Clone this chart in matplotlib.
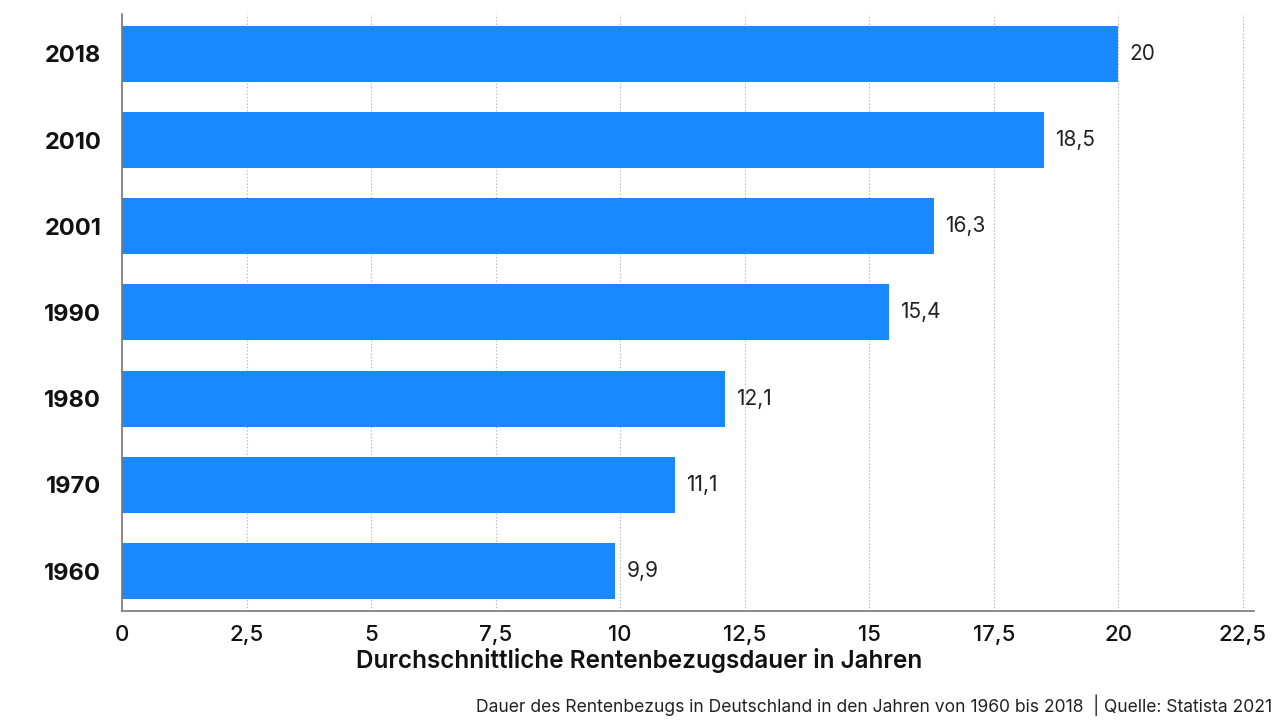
"""Dauer des Rentenbezugs in Deutschland, 1960 bis 2018."""

import matplotlib

matplotlib.use("Agg")
import matplotlib.pyplot as plt
import numpy as np

years = ["1960", "1970", "1980", "1990", "2001", "2010", "2018"]
durations = [9.9, 11.1, 12.1, 15.4, 16.3, 18.5, 20.0]
x_ticks = [0, 2.5, 5, 7.5, 10, 12.5, 15, 17.5, 20, 22.5]

BAR_COLOR = "#1a88ff"


def fmt(v: float) -> str:
    """German decimal comma, drop trailing ,0."""
    s = f"{v:g}"
    return s.replace(".", ",")


def main() -> None:
    plt.rcParams["font.family"] = ["Inter", "DejaVu Sans"]

    fig = plt.figure(figsize=(12.8, 7.2), dpi=100)
    ax = fig.add_axes([0.0953, 0.1514, 0.8847, 0.8292])

    y = np.arange(len(years))
    bars = ax.barh(y, durations, height=0.65, color=BAR_COLOR, zorder=2)
    ax.bar_label(bars, labels=[fmt(v) for v in durations], padding=8,
                 fontsize=15, color="#222222")

    ax.set_xlim(0, 22.73)
    ax.set_ylim(-0.464, 6.464)
    ax.set_xticks(x_ticks, [fmt(v) for v in x_ticks], fontsize=16,
                  fontweight="medium")
    ax.set_yticks(y, years, fontsize=17, fontweight="bold")
    ax.tick_params(axis="both", length=0, colors="#111111")
    ax.tick_params(axis="y", pad=15)
    ax.tick_params(axis="x", pad=10)

    ax.grid(axis="x", linestyle=(0, (1, 2)), color="#aaaaaa", linewidth=0.8,
            zorder=0)
    ax.grid(axis="y", visible=False)
    for side in ("top", "right"):
        ax.spines[side].set_visible(False)
    for side in ("left", "bottom"):
        ax.spines[side].set_color("#777777")
        ax.spines[side].set_linewidth(1.2)

    fig.text(0.4995, 0.082, "Durchschnittliche Rentenbezugsdauer in Jahren",
             ha="center", va="center", fontsize=17.5, fontweight="semibold",
             color="#111111")
    fig.text(0.994, 0.021,
             "Dauer des Rentenbezugs in Deutschland in den Jahren von 1960 bis 2018"
             "  | Quelle: Statista 2021",
             ha="right", va="center", fontsize=12.6, color="#222222")

    fig.savefig("out.png", dpi=100)


if __name__ == "__main__":
    main()
